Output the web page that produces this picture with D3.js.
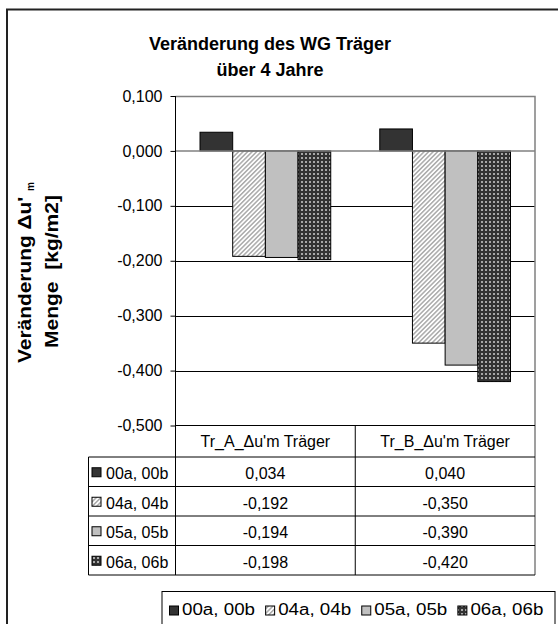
<!DOCTYPE html>
<html>
<head>
<meta charset="utf-8">
<script src="https://cdn.jsdelivr.net/npm/d3@7"></script>
<style>
  html, body { margin: 0; padding: 0; background: #fff; }
  svg { display: block; font-family: "Liberation Sans", Arial, sans-serif; }
  text { white-space: pre; }
</style>
</head>
<body>
<svg id="chart" width="558" height="624"></svg>
<script>
// Chart data
const categories = ["Tr_A_\u0394u'm Tr\u00e4ger", "Tr_B_\u0394u'm Tr\u00e4ger"];
const seriesNames = ["00a, 00b", "04a, 04b", "05a, 05b", "06a, 06b"];
const s00 = [0.034, 0.040];
const s04 = [-0.192, -0.350];
const s05 = [-0.194, -0.390];
const s06 = [-0.198, -0.420];
const yTicks = [0.1, 0.0, -0.1, -0.2, -0.3, -0.4, -0.5];

const seriesValues = [s00, s04, s05, s06];

const de = d3.formatLocale({ decimal: ",", thousands: ".", grouping: [3], currency: ["", " €"], minus: "-" });
const fmt = de.format(".3f");

const svg = d3.select("#chart");
const defs = svg.append("defs");

// Fill patterns for the series
const stripe = defs.append("pattern").attr("id", "pStripe")
  .attr("patternUnits", "userSpaceOnUse").attr("width", 3.2).attr("height", 3.2)
  .attr("patternTransform", "rotate(45)");
stripe.append("rect").attr("width", 3.2).attr("height", 3.2).attr("fill", "#ffffff");
stripe.append("rect").attr("width", 1.5).attr("height", 3.2).attr("fill", "#aaaaaa");

const dots = defs.append("pattern").attr("id", "pDots")
  .attr("patternUnits", "userSpaceOnUse").attr("width", 4).attr("height", 4);
dots.append("rect").attr("width", 4).attr("height", 4).attr("fill", "#333333");
dots.append("rect").attr("x", 1).attr("y", 1).attr("width", 2).attr("height", 2).attr("fill", "#a8a8a8");

const fills = ["#333333", "url(#pStripe)", "#c0c0c0", "url(#pDots)"];

// Outer chart frame
svg.append("rect").attr("x", 7).attr("y", 9.5).attr("width", 620).attr("height", 700)
  .attr("fill", "none").attr("stroke", "#222").attr("stroke-width", 2);

// Layout
const plotL = 175.5, plotR = 535, plotT = 96, plotB = 425.5;
const tableL = 88.5;
const rowH = 29.5, headH = 31.5;
const fs = 16;

const y = d3.scaleLinear().domain([-0.5, 0.1]).range([plotB, plotT]);
const x = d3.scaleBand().domain(categories).range([plotL, plotR]).padding(0);
const xs = d3.scaleBand().domain(seriesNames).range([0, x.bandwidth()]).paddingInner(0).paddingOuter(0.75);

// Title
const title = svg.append("g").attr("font-weight", "bold").attr("font-size", 18).attr("text-anchor", "middle");
title.append("text").attr("x", 270).attr("y", 50).text("Ver\u00e4nderung des WG Tr\u00e4ger");
title.append("text").attr("x", 270).attr("y", 76).text("\u00fcber 4 Jahre");

// Y axis title (two lines, rotated)
const yt = svg.append("g").attr("font-weight", "bold").attr("font-size", 18);
const t1 = yt.append("text").attr("transform", "translate(31,363) rotate(-90)");
t1.append("tspan").attr("textLength", 172).attr("lengthAdjust", "spacingAndGlyphs")
  .text("Ver\u00e4nderung \u0394u' ");
t1.append("tspan").attr("font-size", 10).attr("dy", 3).text("m");
yt.append("text").attr("transform", "translate(58,348) rotate(-90)")
  .attr("textLength", 153).attr("lengthAdjust", "spacingAndGlyphs")
  .text("Menge  [kg/m2]");

// Gridlines
svg.append("g").selectAll("line").data(yTicks.filter(d => d < 0.05 && d > -0.45 && Math.abs(d) > 1e-9))
  .join("line")
  .attr("x1", plotL).attr("x2", plotR)
  .attr("y1", d => Math.round(y(d)) + 0.5).attr("y2", d => Math.round(y(d)) + 0.5)
  .attr("stroke", "#000").attr("stroke-width", 1);

// Plot border (top/right)
svg.append("path").attr("d", `M${plotL},${plotT + 0.5}H${plotR}V${plotB + 4 * rowH + headH}`)
  .attr("fill", "none").attr("stroke", "#808080").attr("stroke-width", 1.5);

// Bars
const groups = svg.append("g").selectAll("g").data(seriesNames).join("g");
groups.selectAll("rect")
  .data((s, i) => categories.map((c, j) => ({ s, i, c, v: seriesValues[i][j] })))
  .join("rect")
  .attr("x", d => x(d.c) + xs(d.s))
  .attr("width", xs.bandwidth())
  .attr("y", d => y(Math.max(0, d.v)))
  .attr("height", d => Math.abs(y(d.v) - y(0)))
  .attr("fill", d => fills[d.i])
  .attr("stroke", "#000").attr("stroke-width", 1);

// Zero line
svg.append("line").attr("x1", plotL).attr("x2", plotR)
  .attr("y1", y(0)).attr("y2", y(0))
  .attr("stroke", "#808080").attr("stroke-width", 1.5);

// Y axis
const yAxis = d3.axisLeft(y).tickValues(yTicks).tickFormat(fmt).tickSize(5).tickPadding(8);
const ya = svg.append("g").attr("transform", `translate(${plotL},0)`).call(yAxis);
ya.select(".domain").remove();
ya.selectAll(".tick line").attr("stroke", "#000");
ya.selectAll(".tick text").attr("font-size", fs).attr("fill", "#000")
  .attr("font-family", "'Liberation Sans', Arial, sans-serif");
svg.append("line").attr("x1", plotL).attr("x2", plotL).attr("y1", plotT).attr("y2", plotB + headH + 4 * rowH)
  .attr("stroke", "#000").attr("stroke-width", 1);

// Data table
const tbl = svg.append("g").attr("font-size", fs);
const tableB = plotB + headH + 4 * rowH;
tbl.append("line").attr("x1", plotL).attr("x2", plotR).attr("y1", plotB).attr("y2", plotB).attr("stroke", "#000");
d3.range(5).forEach(k => {
  const yy = plotB + headH + k * rowH;
  tbl.append("line").attr("x1", tableL).attr("x2", plotR).attr("y1", yy).attr("y2", yy).attr("stroke", "#000");
});
tbl.append("line").attr("x1", tableL).attr("x2", tableL).attr("y1", plotB + headH).attr("y2", tableB).attr("stroke", "#000");
tbl.append("line").attr("x1", x(categories[1])).attr("x2", x(categories[1])).attr("y1", plotB).attr("y2", tableB).attr("stroke", "#000");

tbl.selectAll(".hdr").data(categories).join("text").attr("class", "hdr")
  .attr("x", d => x(d) + x.bandwidth() / 2).attr("y", plotB + 21.5)
  .attr("text-anchor", "middle").text(d => d);

seriesNames.forEach((s, i) => {
  const top = plotB + headH + i * rowH;
  const cy = top + rowH / 2;
  tbl.append("rect").attr("x", 92).attr("y", cy - 4).attr("width", 9).attr("height", 9)
    .attr("fill", fills[i]).attr("stroke", "#000").attr("stroke-width", 1);
  tbl.append("text").attr("x", 106).attr("y", cy + 7.5).text(s);
  categories.forEach((c, j) => {
    tbl.append("text").attr("x", x(c) + x.bandwidth() / 2).attr("y", cy + 7.5)
      .attr("text-anchor", "middle").text(fmt(seriesValues[i][j]));
  });
});

// Legend (entries stretched to fill the legend box)
const lg = svg.append("g").attr("font-size", fs);
lg.append("rect").attr("x", 162).attr("y", 591.5).attr("width", 393).attr("height", 60)
  .attr("fill", "#fff").attr("stroke", "#000").attr("stroke-width", 1);
const legendX = d3.scaleBand().domain(seriesNames).range([169.5, 554]);
seriesNames.forEach((s, i) => {
  const lx = legendX(s);
  lg.append("rect").attr("x", lx).attr("y", 606).attr("width", 9).attr("height", 9)
    .attr("fill", fills[i]).attr("stroke", "#000").attr("stroke-width", 1);
  lg.append("text").attr("x", lx + 12.5).attr("y", 615)
    .attr("textLength", 73).attr("lengthAdjust", "spacingAndGlyphs").text(s);
});
</script>
</body>
</html>
